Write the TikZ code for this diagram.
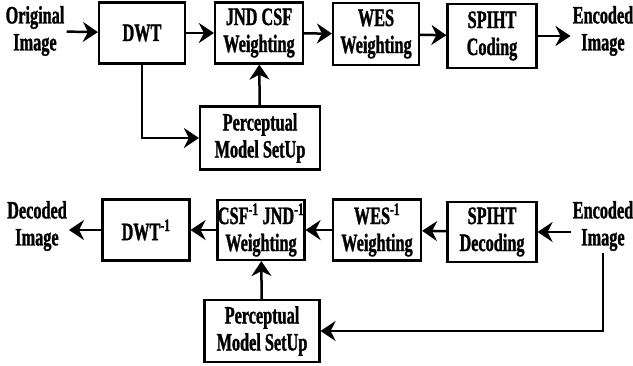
\documentclass[tikz,border=0pt]{standalone}
\usepackage{fontspec}
\setmainfont{Liberation Serif}[FakeStretch=0.65,BoldFeatures={FakeBold=1.2}]
\usepackage{tikz}
\usetikzlibrary{arrows.meta}

\begin{document}
\begin{tikzpicture}[x=1pt,y=-1pt,
	blk/.style={draw,line width=2.2pt,align=center,inner sep=0pt},
	lbl/.style={align=center,inner sep=2pt},
	flow/.style={line width=2.5pt,-{Stealth[length=15pt,width=20pt,inset=5pt]}},
	every node/.style={font=\fontsize{25}{27}\selectfont\bfseries}]
	\useasboundingbox (0,0) rectangle (633,365);
	% Bộ mã hóa
	\node[lbl] (orig) at (35,31) {Original\\Image};
	\node[blk,minimum width=86pt,minimum height=61pt] (dwt) at (142,33) {DWT};
	\node[blk,minimum width=88pt,minimum height=61pt] (jnd) at (259,33) {JND CSF\\Weighting};
	\node[blk,minimum width=86pt,minimum height=62pt] (wes) at (376,34) {WES\\Weighting};
	\node[blk,minimum width=89pt,minimum height=64pt] (spc) at (492,36) {SPIHT\\Coding};
	\node[lbl] (enc) at (603,31) {Encoded\\Image};
	\node[blk,minimum width=120pt,minimum height=63pt] (pms) at (260,138) {Perceptual\\Model SetUp};
	\draw[flow] (orig) -- (dwt);
	\draw[flow] (dwt) -- (jnd);
	\draw[flow] (jnd) -- (wes);
	\draw[flow] (wes) -- (spc);
	\draw[flow] (spc) -- (enc.west |- spc.east);
	\draw[flow] (dwt.south) |- (pms.west);
	\draw[flow] (pms) -- (jnd);
	% Bộ giải mã
	\node[lbl] (dec) at (37,226) {Decoded\\Image};
	\node[blk,minimum width=87pt,minimum height=61pt] (idwt) at (146,230) {DWT\textsuperscript{-1}};
	\node[blk,minimum width=87pt,minimum height=60pt] (icsf) at (261,230) {CSF\textsuperscript{-1} JND\textsuperscript{-1}\\Weighting};
	\node[blk,minimum width=88pt,minimum height=61pt] (iwes) at (377,230) {WES\textsuperscript{-1}\\Weighting};
	\node[blk,minimum width=89pt,minimum height=60pt] (spd) at (492,232) {SPIHT\\Decoding};
	\node[lbl] (enc2) at (603,226) {Encoded\\Image};
	\node[blk,minimum width=115pt,minimum height=62pt] (ipms) at (262,331) {Perceptual\\Model SetUp};
	\draw[flow] (enc2.west |- spd.east) -- (spd);
	\draw[flow] (spd) -- (iwes);
	\draw[flow] (iwes) -- (icsf);
	\draw[flow] (icsf) -- (idwt);
	\draw[flow] (idwt) -- (dec.east |- idwt.west);
	\draw[flow] (enc2.south) |- (ipms.east);
	\draw[flow] (ipms) -- (icsf);
\end{tikzpicture}
\end{document}
